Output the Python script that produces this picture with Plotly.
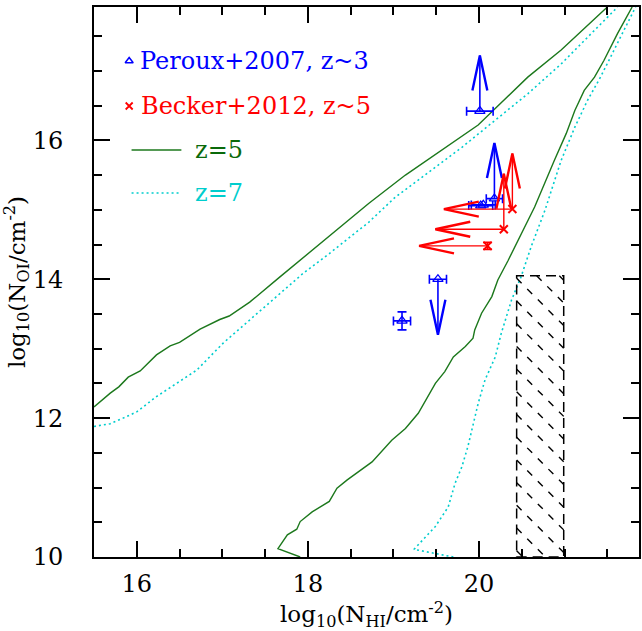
import plotly.graph_objects as go

# ---------------------------------------------------------------- data
# Model envelopes, log10 N_OI vs log10 N_HI (upper and lower branches)
Z5_UPPER_X = [15.50, 15.69, 15.79, 15.90, 16.04, 16.23, 16.39, 16.50, 16.74, 16.97,
              17.08, 17.32, 17.67, 18.05, 18.71, 19.14, 19.99, 20.57, 20.96, 21.50]
Z5_UPPER_Y = [12.16, 12.36, 12.45, 12.59, 12.68, 12.91, 13.04, 13.09, 13.28, 13.42,
              13.47, 13.67, 14.03, 14.42, 15.09, 15.50, 16.22, 16.91, 17.30, 17.92]
Z5_LOWER_X = [17.91, 17.65, 17.76, 17.87, 17.91, 18.05, 18.25, 18.34, 18.46, 18.56,
              18.75, 18.98, 19.14, 19.29, 19.37, 19.49, 19.60, 19.70, 19.84, 19.93,
              19.95, 20.03, 20.15, 20.22, 20.34, 20.42, 20.65, 20.88, 21.02, 21.12,
              21.23, 21.35, 21.46, 21.62, 21.79]
Z5_LOWER_Y = [10.00, 10.12, 10.32, 10.40, 10.51, 10.65, 10.80, 10.99, 11.11, 11.20,
              11.37, 11.68, 11.85, 12.07, 12.24, 12.50, 12.67, 12.88, 13.03, 13.15,
              13.27, 13.51, 13.75, 13.99, 14.27, 14.47, 15.04, 15.71, 16.10, 16.43,
              16.72, 16.91, 17.15, 17.54, 17.92]
Z7_UPPER_X = [15.50, 15.69, 15.84, 16.00, 16.23, 16.46, 16.70, 17.01, 17.32, 17.63,
              17.94, 18.25, 18.71, 19.02, 19.80, 20.19, 20.57, 20.96, 21.35, 21.62]
Z7_UPPER_Y = [11.88, 11.92, 12.00, 12.09, 12.31, 12.50, 12.69, 13.08, 13.41, 13.75,
              14.08, 14.37, 14.82, 15.18, 15.90, 16.29, 16.67, 17.10, 17.58, 17.92]
Z7_LOWER_X = [19.70, 19.24, 19.49, 19.64, 19.72, 19.80, 19.87, 19.93, 19.99, 20.07,
              20.19, 20.26, 20.38, 20.49, 20.61, 20.77, 20.96, 21.12, 21.27, 21.42,
              21.58, 21.73, 21.83]
Z7_LOWER_Y = [10.00, 10.11, 10.44, 10.72, 11.06, 11.30, 11.59, 11.92, 12.21, 12.55,
              12.88, 13.22, 13.70, 14.03, 14.47, 14.99, 15.71, 16.19, 16.58, 16.91,
              17.30, 17.68, 17.92]

# Peroux+2007 (z~3) absorbers; limit refers to N_OI
PEROUX_X = [20.01, 20.02, 20.05, 20.18, 19.10, 19.52]
PEROUX_Y = [16.42, 15.06, 15.07, 15.16, 13.40, 14.00]
PEROUX_XERR = [0.155, 0.14, 0.14, 0.095, 0.10, 0.10]
PEROUX_YERR = [0.0, 0.0, 0.0, 0.0, 0.13, 0.0]
PEROUX_LIMIT = ["lower", None, None, "lower", None, "upper"]

# Becker+2012 (z~5) absorbers: N_HI upper limits, some N_OI lower limits
BECKER_X = [20.39, 20.29, 20.10]
BECKER_Y = [15.01, 14.72, 14.48]
BECKER_YERR = [0.0, 0.0, 0.05]
BECKER_OI_LOWER = [True, True, False]
BECKER_HI_UPPER = [True, True, True]

ARROW_LEN = 0.8  # dex

# Hatched region
HATCH_X = [20.44, 20.99]
HATCH_Y = [10.0, 14.05]

X_RANGE = [15.5, 21.87]
Y_RANGE = [10.0, 17.92]

# ---------------------------------------------------------------- style
W, H = 642, 631
MARGIN = dict(l=94, r=1, t=7, b=74)
PLOT_W = W - MARGIN["l"] - MARGIN["r"]
PLOT_H = H - MARGIN["t"] - MARGIN["b"]
SX = PLOT_W / (X_RANGE[1] - X_RANGE[0])   # px per dex
SY = PLOT_H / (Y_RANGE[1] - Y_RANGE[0])

FONT = "DejaVu Serif"
BLUE = "#0000ff"
RED = "#ff0000"
GREEN = "#1c781c"
GREEN_TXT = "#0a6a0a"
CYAN = "#00cdcd"

HEAD_LEN_PX = 35
HEAD_HALF_PX = 7.5


def arrow(x, y, direction):
    """Shaft and open V head for a limit arrow, in data units."""
    if direction in ("up", "down"):
        s = 1 if direction == "up" else -1
        ty = y + s * ARROW_LEN
        by = ty - s * HEAD_LEN_PX / SY
        dx = HEAD_HALF_PX / SX
        shaft = ([x, x, None], [y, ty, None])
        head = ([x - dx, x, x + dx, None], [by, ty, by, None])
    else:
        tx = x - ARROW_LEN
        bx = tx + HEAD_LEN_PX / SX
        dy = HEAD_HALF_PX / SY
        shaft = ([x, tx, None], [y, y, None])
        head = ([bx, tx, bx, None], [y + dy, y, y - dy, None])
    return shaft, head


fig = go.Figure()

# ---------------------------------------------------------------- model curves
fig.add_trace(go.Scatter(x=Z5_UPPER_X + [None] + Z5_LOWER_X,
                         y=Z5_UPPER_Y + [None] + Z5_LOWER_Y,
                         mode="lines", line=dict(color=GREEN, width=1.4),
                         showlegend=False, hoverinfo="skip"))
fig.add_trace(go.Scatter(x=Z7_UPPER_X + [None] + Z7_LOWER_X,
                         y=Z7_UPPER_Y + [None] + Z7_LOWER_Y,
                         mode="lines", line=dict(color=CYAN, width=1.6, dash="2px,3px"),
                         showlegend=False, hoverinfo="skip"))

# ---------------------------------------------------------------- hatched box
x0, x1 = HATCH_X
y0, y1 = HATCH_Y
bw = (x1 - x0) * SX
bh = (y1 - y0) * SY
spacing = 22.7
hx, hy = [], []
c = 2.6 - spacing * int((bw + 2.6) / spacing + 1)
while c < bh:
    u_a = max(0.0, -c)
    u_b = min(bw, bh - c)
    if u_b > u_a:
        hx += [x0 + u_a / SX, x0 + u_b / SX, None]
        hy += [y1 - (u_a + c) / SY, y1 - (u_b + c) / SY, None]
    c += spacing
fig.add_trace(go.Scatter(x=hx, y=hy, mode="lines",
                         line=dict(color="black", width=1.4, dash="7px,8px"),
                         showlegend=False, hoverinfo="skip"))
fig.add_shape(type="rect", x0=x0, x1=x1, y0=y0, y1=y1, xref="x", yref="y",
              line=dict(color="black", width=1.5, dash="10px,6px"))

# ---------------------------------------------------------------- Peroux points
sh_x, sh_y, hd_x, hd_y = [], [], [], []
for x, y, xe, ye, lim in zip(PEROUX_X, PEROUX_Y, PEROUX_XERR, PEROUX_YERR, PEROUX_LIMIT):
    tr = dict(x=[x], y=[y], mode="markers",
              marker=dict(symbol="triangle-up-open", size=9, color=BLUE,
                          line=dict(width=1.3, color=BLUE)),
              showlegend=False, hoverinfo="skip")
    if xe > 0:
        tr["error_x"] = dict(type="data", array=[xe], color=BLUE, thickness=1.6, width=4.5)
    if ye > 0:
        tr["error_y"] = dict(type="data", array=[ye], color=BLUE, thickness=1.6, width=4.5)
    fig.add_trace(go.Scatter(**tr))
    if lim:
        (sx_, sy_), (hx_, hy_) = arrow(x, y, "up" if lim == "lower" else "down")
        sh_x += sx_; sh_y += sy_; hd_x += hx_; hd_y += hy_
fig.add_trace(go.Scatter(x=sh_x, y=sh_y, mode="lines", line=dict(color=BLUE, width=1.6),
                         showlegend=False, hoverinfo="skip"))
fig.add_trace(go.Scatter(x=hd_x, y=hd_y, mode="lines", line=dict(color=BLUE, width=2.4),
                         showlegend=False, hoverinfo="skip"))

# ---------------------------------------------------------------- Becker points
sh_x, sh_y, hd_x, hd_y = [], [], [], []
for x, y, ye, lo, up in zip(BECKER_X, BECKER_Y, BECKER_YERR, BECKER_OI_LOWER, BECKER_HI_UPPER):
    tr = dict(x=[x], y=[y], mode="markers",
              marker=dict(symbol="x-thin-open", size=8, color=RED,
                          line=dict(width=2, color=RED)),
              showlegend=False, hoverinfo="skip")
    if ye > 0:
        tr["error_y"] = dict(type="data", array=[ye], color=RED, thickness=1.6, width=4.5)
    fig.add_trace(go.Scatter(**tr))
    for flag, d in ((lo, "up"), (up, "left")):
        if flag:
            (sx_, sy_), (hx_, hy_) = arrow(x, y, d)
            sh_x += sx_; sh_y += sy_; hd_x += hx_; hd_y += hy_
fig.add_trace(go.Scatter(x=sh_x, y=sh_y, mode="lines", line=dict(color=RED, width=1.4),
                         showlegend=False, hoverinfo="skip"))
fig.add_trace(go.Scatter(x=hd_x, y=hd_y, mode="lines", line=dict(color=RED, width=2.4),
                         showlegend=False, hoverinfo="skip"))

# ---------------------------------------------------------------- key (pixel overlay axes)
KEY_FONT = 24
fig.add_trace(go.Scatter(x=[35.3], y=[54], xaxis="x2", yaxis="y2", mode="markers",
                         marker=dict(symbol="triangle-up-open", size=7, color=BLUE,
                                     line=dict(width=1.5, color=BLUE)),
                         showlegend=False, hoverinfo="skip"))
fig.add_trace(go.Scatter(x=[35.3], y=[99], xaxis="x2", yaxis="y2", mode="markers",
                         marker=dict(symbol="x-thin-open", size=7, color=RED,
                                     line=dict(width=1.8, color=RED)),
                         showlegend=False, hoverinfo="skip"))
fig.add_trace(go.Scatter(x=[37.7, 87.7], y=[143, 143], xaxis="x2", yaxis="y2", mode="lines",
                         line=dict(color=GREEN, width=1.4), showlegend=False, hoverinfo="skip"))
fig.add_trace(go.Scatter(x=[37.7, 86.0], y=[186, 186], xaxis="x2", yaxis="y2", mode="lines",
                         line=dict(color=CYAN, width=1.6, dash="2px,3px"),
                         showlegend=False, hoverinfo="skip"))
for txt, kx, ky, col in (("Peroux+2007, z~3", 44, 54, BLUE),
                         ("Becker+2012, z~5", 45, 99, RED),
                         ("z=5", 99, 143, GREEN_TXT),
                         ("z=7", 99, 186, CYAN)):
    fig.add_annotation(x=kx, y=ky, xref="x2", yref="y2", text=txt, showarrow=False,
                       xanchor="left", yanchor="middle",
                       font=dict(family=FONT, size=KEY_FONT, color=col))

# ---------------------------------------------------------------- axes
axis_common = dict(
    ticks="inside", ticklen=16, tickwidth=1.5, tickcolor="black",
    showline=True, linewidth=2, linecolor="black", mirror="ticks",
    showgrid=False, zeroline=False, tick0=0, dtick=2,
    minor=dict(dtick=0.5, tick0=0, ticks="inside", ticklen=8, tickwidth=1.5,
               tickcolor="black", showgrid=False),
    tickfont=dict(family=FONT, size=24, color="black"),
)
fig.update_layout(
    width=W, height=H, margin=MARGIN,
    paper_bgcolor="white", plot_bgcolor="white",
    showlegend=False,
    xaxis=dict(range=X_RANGE, ticklabelstandoff=4, **axis_common,
               title=dict(text="log<sub>10</sub>(N<sub>HI</sub>/cm<sup>-2</sup>)",
                          font=dict(family=FONT, size=23, color="black"), standoff=1)),
    yaxis=dict(range=Y_RANGE, ticklabelstandoff=24, **axis_common,
               title=dict(text="log<sub>10</sub>(N<sub>OI</sub>/cm<sup>-2</sup>)",
                          font=dict(family=FONT, size=23, color="black"), standoff=2)),
    xaxis2=dict(overlaying="x", range=[0, PLOT_W], visible=False, fixedrange=True),
    yaxis2=dict(overlaying="y", range=[PLOT_H, 0], visible=False, fixedrange=True),
)

fig.write_html("out.html")
